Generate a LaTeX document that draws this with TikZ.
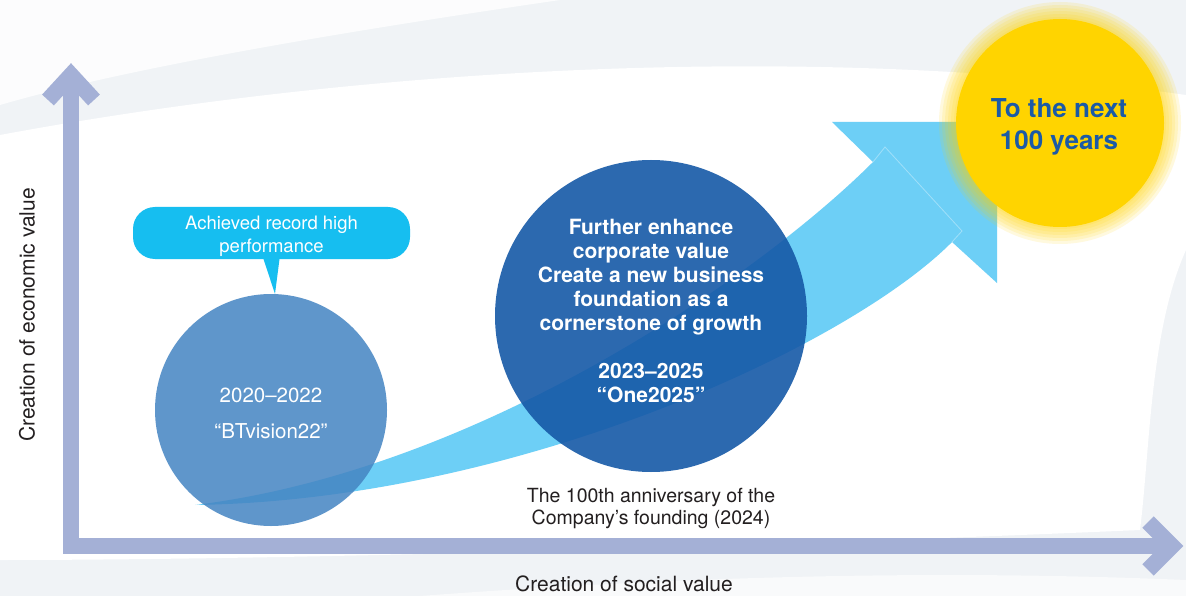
\documentclass[tikz,border=0pt]{standalone}
\usepackage{fontspec}
\setmainfont{TeX Gyre Heros}
\usetikzlibrary{positioning}

\definecolor{bggray}{RGB}{240,243,246}
\definecolor{axisblue}{RGB}{164,176,214}
\definecolor{arrowcyan}{RGB}{109,207,246}
\definecolor{calloutcyan}{RGB}{22,190,240}
\definecolor{visionblue}{RGB}{68,132,194}
\definecolor{oneblue}{RGB}{22,89,167}
\definecolor{sunyellow}{RGB}{255,212,0}
\definecolor{suntext}{RGB}{27,90,166}
\definecolor{labelgray}{RGB}{35,31,32}

\begin{document}
\begin{tikzpicture}[x=1pt,y=-1pt,
    axis/.style={draw=axisblue,line width=16pt,line join=miter},
    axislabel/.style={text=labelgray,font=\fontsize{21}{24}\selectfont},
    notetext/.style={text=labelgray,align=center,font=\fontsize{19.5}{22}\selectfont},
    phase/.style={circle,inner sep=0pt},
    phasetext/.style={text=white,align=center},
    callout/.style={fill=calloutcyan,rounded corners=22pt,minimum width=277pt,minimum height=52pt,inner sep=0pt}]
    \useasboundingbox (0,0) rectangle (1186,596);

    % background
    \fill[bggray] (0,0) rectangle (1186,596);
    \fill[white] (0,135) .. controls (350,70) and (800,40) .. (1186,95)
        -- (1186,250) .. controls (1150,330) and (1150,450) .. (1140,530)
        .. controls (800,545) and (300,560) .. (0,560) -- cycle;
    \fill[white,opacity=0.8] (0,0) -- (560,0) .. controls (320,35) and (120,70) .. (0,105) -- cycle;
    \fill[white,opacity=0.6] (420,596) .. controls (700,575) and (950,570) .. (1186,580) -- (1186,596) -- cycle;

    % axes
    \draw[axis] (71,75) -- (71,546) -- (1172,546);
    \draw[axis] (48,100) -- (71,75) -- (94,100);
    \draw[axis] (1148,522) -- (1172,546) -- (1148,570);
    \node[axislabel,rotate=90] (econ) at (27,315) {Creation of economic value};
    \node[axislabel] (social) at (624,584) {Creation of social value};

    % growth arrow
    \coordinate (tail) at (195,505);
    \fill[arrowcyan] (tail) .. controls (480,470) and (760,275) .. (873,162)
        -- (832,122) -- (997,122) -- (997,283) -- (952,242)
        .. controls (850,345) and (520,500) .. (tail) -- cycle;
    \draw[white,opacity=0.35,line width=0.8pt] (873,162) -- (885,147) -- (962,231) -- (952,242);

    % phases
    \node[phase,fill=visionblue,fill opacity=0.85,minimum size=232pt] (vision) at (271,410) {};
    \node[phasetext,font=\fontsize{20.5}{36}\selectfont] (visiontxt) at (271,413) {2020–2022\\“BTvision22”};
    \node[phase,fill=oneblue,fill opacity=0.9,minimum size=312pt] (one) at (651,316) {};
    \node[phasetext,font=\fontsize{21}{24}\selectfont\bfseries] (onetxt) at (651,310.5)
        {Further enhance\\corporate value\\Create a new business\\foundation as a\\cornerstone of growth\\[24pt]2023–2025\\“One2025”};
    \node[notetext] (anniv) at (651,508) {The 100th anniversary of the\\Company’s founding (2024)};

    % callout
    \node[callout] (record) at (271.5,233) {};
    \fill[calloutcyan] ([xshift=-8pt]record.south) -- ([xshift=8pt]record.south) -- ([xshift=4pt]vision.north) -- cycle;
    \node[phasetext,font=\fontsize{18.5}{23}\selectfont] (recordtxt) at ([yshift=-3pt]record.center) {Achieved record high\\performance};

    % next 100 years
    \coordinate (suncenter) at (1060,123);
    \foreach \r in {121,118,...,104}
        \fill[sunyellow,opacity=0.13] (suncenter) circle (\r);
    \node[phase,fill=sunyellow,minimum size=208pt] (sun) at (suncenter) {};
    \node[text=suntext,align=center,font=\fontsize{26}{32}\selectfont\bfseries] (suntxt) at (1059,127) {To the next\\100 years};
\end{tikzpicture}
\end{document}
